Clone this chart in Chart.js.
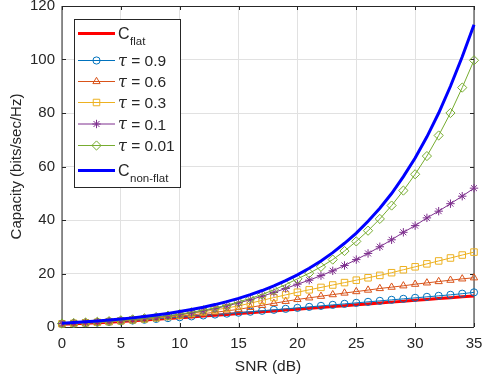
<!DOCTYPE html>
<html><head><meta charset="utf-8">
<script src="https://cdn.jsdelivr.net/npm/chart.js@4.4.0/dist/chart.umd.min.js"></script>
<style>html,body{margin:0;padding:0;background:#fff;}#wrap{width:483px;height:385px;position:relative;}</style>
</head><body><div id="wrap"><canvas id="c" width="483" height="385"></canvas></div>
<script>
// ---------- data ----------
const snr = [0,1,2,3,4,5,6,7,8,9,10,11,12,13,14,15,16,17,18,19,20,21,22,23,24,25,26,27,28,29,30,31,32,33,34,35];
const cFlat = [1.00,1.18,1.37,1.58,1.81,2.06,2.32,2.59,2.87,3.16,3.46,3.76,4.08,4.39,4.71,5.03,5.35,5.68,6.00,6.33,6.66,6.99,7.32,7.65,7.98,8.31,8.64,8.97,9.30,9.64,9.97,10.30,10.63,10.96,11.30,11.63];
const tau09 = [1.08,1.25,1.44,1.66,1.90,2.16,2.43,2.72,3.02,3.33,3.65,3.98,4.32,4.66,5.00,5.35,5.70,6.05,6.42,6.78,7.15,7.52,7.90,8.27,8.65,9.02,9.40,9.77,10.15,10.52,10.90,11.27,11.65,12.03,12.45,12.95];
const tau06 = [1.18,1.35,1.54,1.75,1.99,2.25,2.53,2.85,3.20,3.62,4.06,4.52,5.00,5.50,6.03,6.60,7.35,8.10,8.85,9.60,10.30,10.90,11.50,12.10,12.70,13.25,13.80,14.40,14.90,15.40,16.00,16.50,17.00,17.50,18.00,18.40];
const tau03 = [1.20,1.35,1.55,1.75,2.00,2.30,2.65,3.00,3.45,3.95,4.50,5.10,5.70,6.40,7.10,7.90,8.90,9.95,11.00,12.00,13.00,13.90,14.80,15.70,16.60,17.50,18.40,19.30,20.30,21.40,22.50,23.60,24.70,25.80,26.90,28.00];
const tau01 = [1.28,1.46,1.66,1.89,2.15,2.45,2.78,3.16,3.60,4.10,4.65,5.28,6.00,6.90,7.90,9.00,10.20,11.50,12.90,14.40,16.00,17.50,19.20,21.00,23.00,25.20,27.50,30.00,32.60,35.40,37.90,40.80,43.30,46.10,48.90,51.90];
const tau001 = [1.30,1.48,1.69,1.93,2.20,2.51,2.86,3.26,3.72,4.24,4.83,5.50,6.27,7.15,8.15,9.40,10.70,12.15,13.90,15.85,18.00,20.10,22.50,25.20,28.40,32.00,36.00,40.40,45.40,51.00,57.10,63.90,71.60,80.00,89.50,99.70];
const cNonFlat = [1.41,1.65,1.93,2.24,2.59,2.97,3.41,3.90,4.45,5.06,5.76,6.53,7.40,8.38,9.47,10.70,12.08,13.63,15.37,17.32,19.50,21.95,24.70,27.80,31.30,35.10,39.50,44.40,49.90,56.20,63.20,71.10,80.00,90.00,101.00,113.00];
const xTicks = [0,5,10,15,20,25,30,35];
const yTicks = [0,20,40,60,80,100,120];
const legendMain = ['C','\u03C4 = 0.9','\u03C4 = 0.6','\u03C4 = 0.3','\u03C4 = 0.1','\u03C4 = 0.01','C'];
const legendSub = ['flat','','','','','','non-flat'];
const xTitle = 'SNR (dB)';
const yTitle = 'Capacity (bits/sec/Hz)';

const pts = arr => arr.map((v,i)=>({x:snr[i], y:v}));
const TXT = '#262626';
const SANS = '"Liberation Sans", Arial, Helvetica, sans-serif';

function mk(label, arr, color, width, style, radius, order){
  return {label, data:pts(arr), borderColor:color, backgroundColor:'rgba(0,0,0,0)',
    borderWidth:width, pointStyle:style||'circle', pointRadius:radius, pointBorderColor:color,
    pointBackgroundColor:'rgba(0,0,0,0)', pointBorderWidth:1, tension:0, clip:false, order, fill:false};
}
const datasets = [
  mk('C_flat', cFlat, '#FF0000', 3, 'circle', 0, 6),
  mk('tau=0.9', tau09, '#0072BD', 1, 'circle', 3.6, 5),
  mk('tau=0.6', tau06, '#D95319', 1, 'triangle', 4.2, 4),
  mk('tau=0.3', tau03, '#EDB120', 1, 'rect', 4.6, 3),
  mk('tau=0.1', tau01, '#7E2F8E', 1, 'star', 4.2, 2),
  mk('tau=0.01', tau001, '#77AC30', 1, 'rectRot', 4.6, 1),
  mk('C_nonflat', cNonFlat, '#0000FF', 3, 'circle', 0, 0)
];

const boxPlugin = {
  id:'box',
  beforeDatasetsDraw(chart){
    const {ctx, chartArea:a, scales} = chart;
    ctx.save();
    ctx.strokeStyle = TXT; ctx.lineWidth = 1;
    const tl = 4;
    ctx.beginPath();
    xTicks.forEach(v=>{ const x = Math.round(scales.x.getPixelForValue(v)) + 0.5;
      ctx.moveTo(x, a.bottom); ctx.lineTo(x, a.bottom - tl);
      ctx.moveTo(x, a.top); ctx.lineTo(x, a.top + tl); });
    yTicks.forEach(v=>{ const y = Math.round(scales.y.getPixelForValue(v)) + 0.5;
      ctx.moveTo(a.left, y); ctx.lineTo(a.left + tl, y);
      ctx.moveTo(a.right, y); ctx.lineTo(a.right - tl, y); });
    ctx.stroke();
    ctx.beginPath();
    ctx.moveTo(a.left, a.top + 0.5); ctx.lineTo(a.right, a.top + 0.5);
    ctx.moveTo(a.left, a.bottom + 0.5); ctx.lineTo(a.right, a.bottom + 0.5);
    ctx.moveTo(a.left, a.top); ctx.lineTo(a.left, a.bottom);
    ctx.moveTo(a.right, a.top); ctx.lineTo(a.right, a.bottom);
    ctx.stroke();
    ctx.restore();
  }
};

const legendPlugin = {
  id:'mlegend',
  afterDraw(chart){
    const ctx = chart.ctx;
    const bx = 74.5, by = 19.5, bw = 106, bh = 168;
    ctx.save();
    ctx.fillStyle = '#fff'; ctx.fillRect(bx, by, bw, bh);
    ctx.strokeStyle = TXT; ctx.lineWidth = 1; ctx.strokeRect(bx, by, bw, bh);
    const rows = [33.5, 60.5, 81.5, 102.5, 124, 145.5, 170.5];
    const x0 = 78, x1 = 115, tx = 118;
    chart.data.datasets.forEach((ds, i) => {
      const y = rows[i];
      ctx.strokeStyle = ds.borderColor; ctx.lineWidth = ds.borderWidth;
      ctx.beginPath(); ctx.moveTo(x0, y); ctx.lineTo(x1, y); ctx.stroke();
      if (ds.pointRadius > 0) {
        ctx.strokeStyle = ds.borderColor; ctx.fillStyle = 'rgba(0,0,0,0)'; ctx.lineWidth = 1;
        Chart.helpers.drawPoint(ctx, {pointStyle: ds.pointStyle, radius: ds.pointRadius, borderWidth: 1, rotation: 0}, (x0 + x1) / 2, y);
      }
      ctx.fillStyle = TXT; ctx.textBaseline = 'alphabetic'; ctx.textAlign = 'left';
      const main = legendMain[i], sub = legendSub[i];
      if (sub) {
        ctx.font = '16px ' + SANS;
        ctx.fillText(main, tx, y + 5);
        const w = ctx.measureText(main).width;
        ctx.font = '11.5px ' + SANS;
        ctx.fillText(sub, tx + w + 0.5, y + 11.5);
      } else {
        ctx.font = 'italic 16px "DejaVu Serif", "Liberation Serif", serif';
        const tau = main.charAt(0);
        ctx.fillText(tau, tx, y + 5);
        const w = ctx.measureText(tau).width;
        ctx.font = '15.5px ' + SANS;
        ctx.fillText(main.slice(1), tx + w, y + 5.5);
      }
    });
    ctx.restore();
  }
};

new Chart(document.getElementById('c'), {
  type:'line',
  data:{datasets},
  options:{
    responsive:false, animation:false, devicePixelRatio:1,
    layout:{padding:{top:6, right:9, left:0, bottom:0}},
    plugins:{legend:{display:false}, tooltip:{enabled:false}},
    scales:{
      x:{type:'linear', min:0, max:35,
        afterBuildTicks: s => { s.ticks = xTicks.map(v=>({value:v})); },
        afterFit: s => { s.height = 58; s.paddingLeft = 0; s.paddingRight = 0; },
        grid:{color:'#e1e1e1', drawTicks:false, lineWidth:1},
        border:{display:false},
        ticks:{color:TXT, font:{family:SANS, size:15}, padding:8, maxRotation:0, autoSkip:false},
        title:{display:true, text:xTitle, color:TXT, font:{family:SANS, size:15.5}, padding:{top:0,bottom:9}}
      },
      y:{type:'linear', min:0, max:120,
        afterBuildTicks: s => { s.ticks = yTicks.map(v=>({value:v})); },
        afterFit: s => { s.width = 62; s.paddingTop = 0; s.paddingBottom = 0; },
        grid:{color:'#e1e1e1', drawTicks:false, lineWidth:1},
        border:{display:false},
        ticks:{color:TXT, font:{family:SANS, size:15}, padding:7, autoSkip:false},
        title:{display:true, text:yTitle, color:TXT, font:{family:SANS, size:15}, padding:{top:8,bottom:0}}
      }
    }
  },
  plugins:[boxPlugin, legendPlugin]
});
</script></body></html>
